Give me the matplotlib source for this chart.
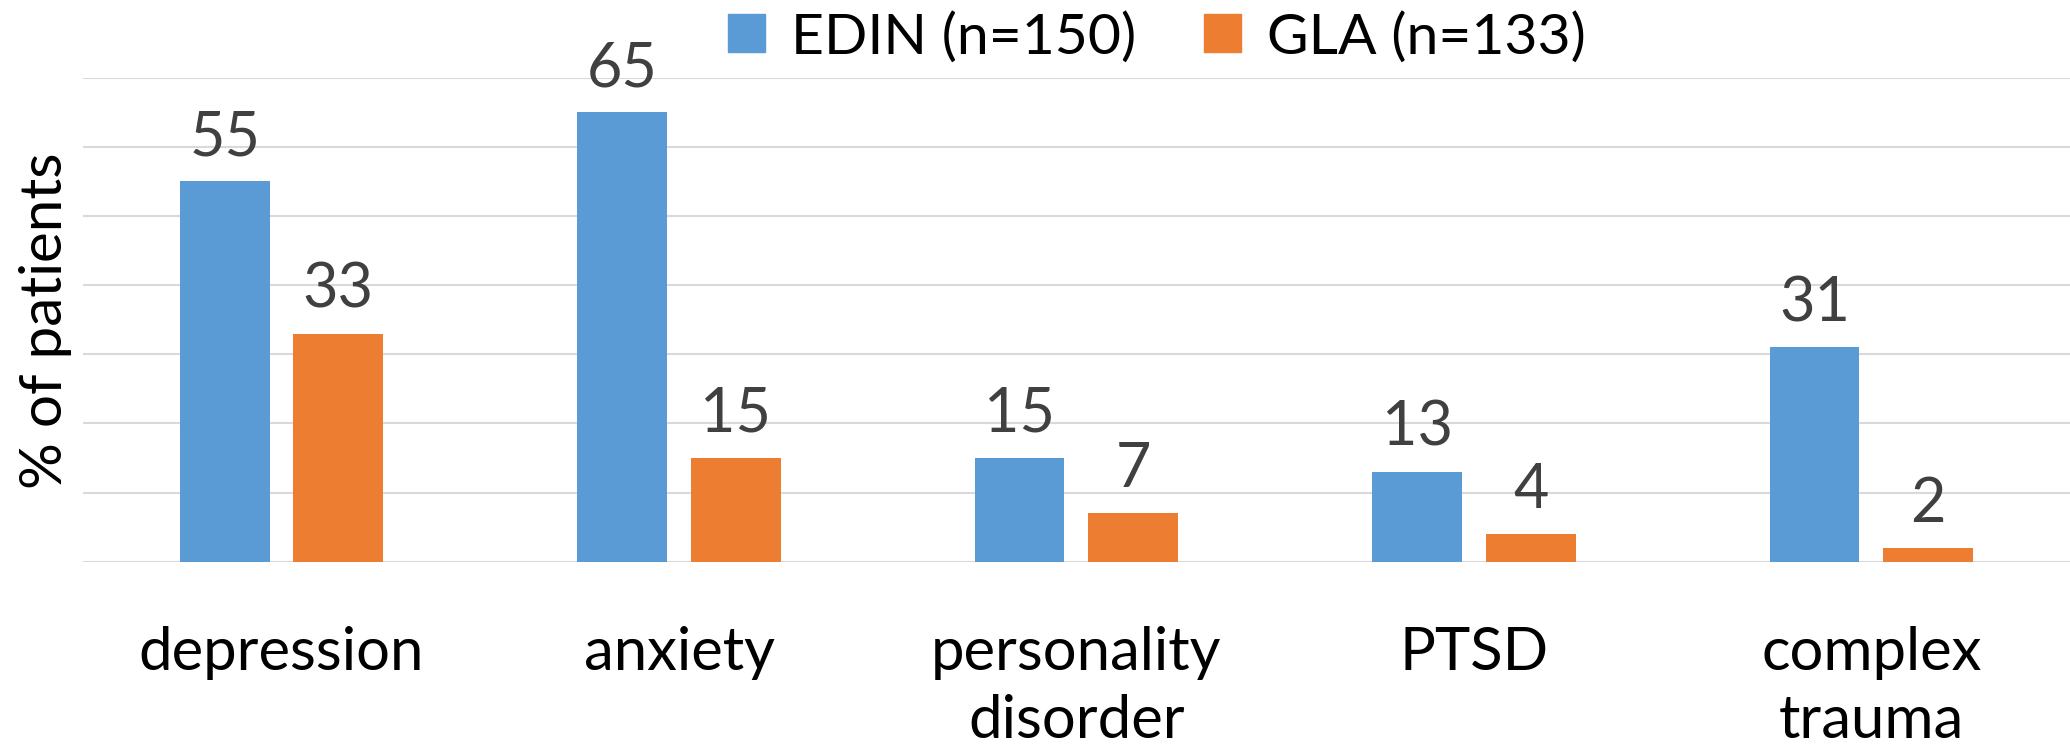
import numpy as np
import matplotlib
matplotlib.use("Agg")
import matplotlib.pyplot as plt
from matplotlib.patches import Patch

plt.rcParams['font.family'] = ['Lato', 'DejaVu Sans']

# Diagnoses and percentage of patients per cohort
categories = ["depression", "anxiety", "personality\ndisorder", "PTSD", "complex\ntrauma"]
edin = [55, 65, 15, 13, 31]
gla = [33, 15, 7, 4, 2]
series_names = ["EDIN (n=150)", "GLA (n=133)"]

blue = "#5B9BD5"
orange = "#ED7D31"

fig = plt.figure(figsize=(20.7, 7.47), dpi=100)
ax = fig.add_axes([0.040, 0.248, 0.960, 0.648])

x = np.arange(len(categories))
w = 0.226
off = 0.143
b1 = ax.bar(x - off, edin, w, color=blue, zorder=3)
b2 = ax.bar(x + off, gla, w, color=orange, zorder=3)

for bars, vals in ((b1, edin), (b2, gla)):
    for rect, v in zip(bars, vals):
        ax.text(rect.get_x() + rect.get_width() / 2, v + 2.2, str(v),
                ha="center", va="bottom", fontsize=44, color="#404040")

ax.set_xlim(-0.5, len(categories) - 0.5)
ax.set_ylim(0, 70)
ax.set_yticks(np.arange(0, 71, 10))
ax.set_yticklabels([])
ax.tick_params(axis="y", length=0)
ax.tick_params(axis="x", length=0, pad=46, labelsize=43)
ax.set_xticks(x)
ax.set_xticklabels(categories, va="top", linespacing=1.32)
ax.grid(axis="y", color="#D9D9D9", linewidth=1.5, zorder=0)
for s in ax.spines.values():
    s.set_visible(False)

fig.text(0.022, 0.57, "% of patients", rotation=90, ha="center", va="center",
         fontsize=42, color="black")

handles = [Patch(color=blue), Patch(color=orange)]
fig.legend(handles, series_names, loc="center", bbox_to_anchor=(0.559, 0.95),
           ncol=2, frameon=False, fontsize=41, handlelength=0.65, handleheight=0.65,
           handletextpad=0.45, columnspacing=1.2)

fig.savefig("out.png", dpi=100)
